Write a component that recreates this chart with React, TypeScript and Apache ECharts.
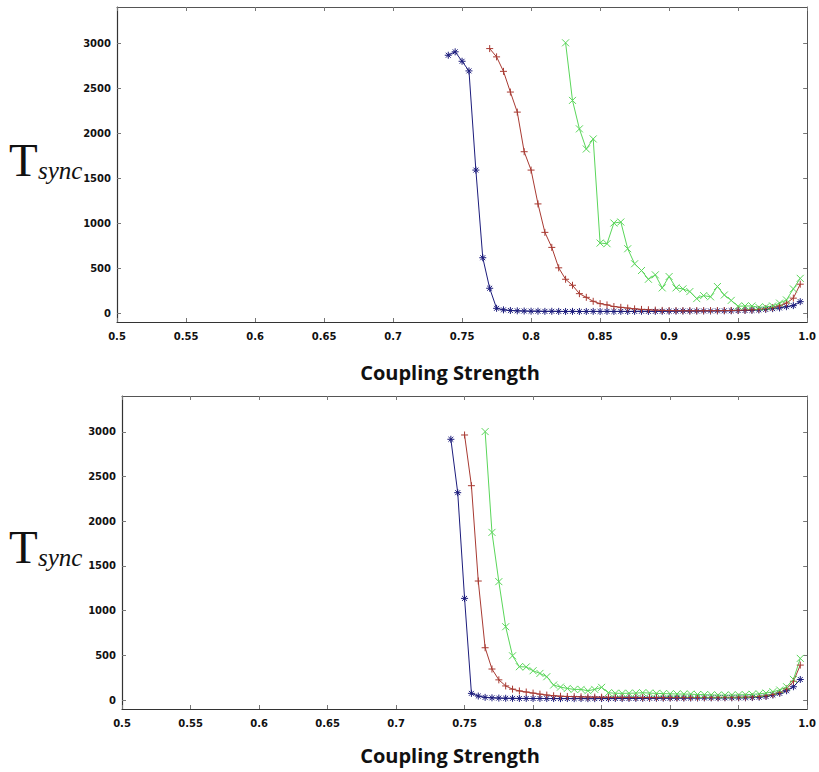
import React, { useEffect, useRef } from "react";
import * as echarts from "echarts";

// Sampling grid of coupling strength (step between successive samples)
const xStep = 0.005;
const yTicks = [0, 500, 1000, 1500, 2000, 2500, 3000];

// ---- Top panel ----
const topBlueStart = 0.74;
const topBlue = [
  2864, 2902, 2797, 2690, 1588, 614, 275, 52, 35, 28, 24, 22, 20, 20, 18, 19, 18, 17,
  18, 17, 17, 18, 17, 18, 17, 18, 17, 18, 19, 18, 18, 19, 20, 21, 22, 22, 22, 23, 23,
  24, 24, 25, 27, 28, 30, 34, 40, 48, 56, 70, 82, 126,
];
const topRedStart = 0.77;
const topRed = [
  2938, 2846, 2685, 2455, 2232, 1792, 1588, 1212, 896, 729, 502, 375, 308, 215, 174,
  130, 104, 90, 72, 63, 55, 46, 40, 36, 32, 29, 27, 26, 25, 25, 25, 25, 26, 26, 27, 28,
  30, 32, 35, 40, 48, 60, 80, 110, 165, 320,
];
const topGreenStart = 0.825;
const topGreen = [
  3002, 2362, 2046, 1822, 1934, 777, 770, 1000, 1011, 714, 547, 472, 375, 424, 279, 405,
  279, 268, 238, 160, 193, 180, 294, 200, 140, 75, 78, 78, 63, 68, 78, 110, 145, 268, 385,
];

// ---- Bottom panel ----
const botBlueStart = 0.74;
const botBlue = [
  2916, 2319, 1137, 75, 45, 30, 25, 22, 20, 19, 18, 18, 17, 18, 17, 17, 16, 17, 16, 17,
  16, 16, 17, 16, 17, 17, 18, 18, 19, 20, 20, 21, 21, 22, 22, 23, 23, 24, 24, 24, 25,
  25, 25, 25, 28, 32, 40, 56, 75, 104, 149, 230,
];
const botRedStart = 0.75;
const botRed = [
  2964, 2397, 1331, 585, 347, 226, 158, 122, 102, 90, 78, 66, 56, 48, 43, 40, 38, 36, 34,
  33, 32, 31, 30, 30, 29, 29, 28, 28, 28, 28, 28, 28, 28, 28, 29, 29, 29, 30, 30, 30, 31,
  32, 35, 40, 48, 62, 85, 125, 210, 391,
];
const botGreenStart = 0.765;
const botGreen = [
  3002, 1875, 1324, 820, 495, 373, 370, 328, 298, 261, 168, 145, 130, 119, 119, 104, 119,
  142, 82, 76, 75, 76, 78, 82, 78, 75, 72, 70, 68, 67, 66, 62, 60, 58, 55, 55, 56, 58, 60,
  64, 70, 78, 93, 112, 149, 231, 466,
];

const BLUE = "#1c1c7c";
const RED = "#a83a32";
const GREEN = "#5ad65a";

const STAR = "path://M5,0L5,10M0,5L10,5M1.5,1.5L8.5,8.5M8.5,1.5L1.5,8.5";
const PLUS = "path://M5,0L5,10M0,5L10,5";
const CROSS = "path://M0,0L10,10M10,0L0,10";

function pairs(start: number, vals: number[]) {
  return vals.map((v, i) => [Number((start + i * xStep).toFixed(3)), v]);
}

const labelFont = {
  fontFamily: "DejaVu Sans",
  fontWeight: "bold" as const,
  fontSize: 10,
  color: "#111",
};

function xAxes(gridIndex: number) {
  const base = {
    type: "value" as const,
    gridIndex,
    min: 0.5,
    max: 1.0,
    interval: 0.05,
    splitLine: { show: false },
    axisLine: { show: true, onZero: false, lineStyle: { color: "#333", width: 1.2 } },
    axisTick: { show: true, inside: true, length: 4, lineStyle: { color: "#777" } },
  };
  return [
    {
      ...base,
      position: "bottom" as const,
      axisLabel: {
        ...labelFont,
        margin: 9,
        showMinLabel: true,
        showMaxLabel: true,
        formatter: (v: number) => (Math.abs(v - 1) < 1e-9 ? "1.0" : String(parseFloat(v.toFixed(2)))),
      },
    },
    {
      ...base,
      position: "top" as const,
      axisLine: { show: true, onZero: false, lineStyle: { color: "#555", width: 1 } },
      axisLabel: { show: false },
    },
  ];
}

function yAxes(gridIndex: number) {
  const base = {
    type: "value" as const,
    gridIndex,
    min: -100,
    max: 3400,
    splitLine: { show: false },
    axisLine: { show: true, onZero: false, lineStyle: { color: "#333", width: 1.2 } },
    axisTick: { show: true, inside: true, length: 4, customValues: yTicks, lineStyle: { color: "#777" } },
  };
  return [
    {
      ...base,
      position: "left" as const,
      axisLabel: {
        ...labelFont,
        margin: 6,
        customValues: yTicks,
        formatter: (v: number) => String(Math.round(v)),
      },
    },
    {
      ...base,
      position: "right" as const,
      axisLine: { show: true, onZero: false, lineStyle: { color: "#555", width: 1 } },
      axisLabel: { show: false },
    },
  ];
}

function series(data: number[][], color: string, symbol: string, xi: number, yi: number) {
  return {
    type: "line" as const,
    xAxisIndex: xi,
    yAxisIndex: yi,
    data,
    symbol,
    symbolSize: 7,
    showSymbol: true,
    lineStyle: { color, width: 1 },
    itemStyle: { color, borderColor: color, borderWidth: 1 },
    emphasis: { disabled: true },
  };
}

export default function App() {
  const ref = useRef<HTMLDivElement>(null);
  useEffect(() => {
    document.body.style.margin = "0";
    if (!ref.current) return;
    const chart = echarts.init(ref.current, undefined, { renderer: "svg" });
    const titleStyle = {
      fill: "#111",
      fontFamily: "Open Sans",
      fontWeight: "bold",
      fontSize: 20,
      textAlign: "center",
      textVerticalAlign: "middle",
    };
    const tsyncStyle = {
      text: "{t|T}{s|sync}",
      fill: "#111",
      textVerticalAlign: "top",
      rich: {
        t: {
          fontFamily: "Liberation Serif",
          fontSize: 47,
          lineHeight: 56,
          width: 29,
          verticalAlign: "bottom",
          fill: "#111",
        },
        s: {
          fontFamily: "Liberation Serif",
          fontStyle: "italic",
          fontSize: 25,
          lineHeight: 35,
          verticalAlign: "bottom",
          fill: "#111",
        },
      },
    };
    chart.setOption({
      animation: false,
      backgroundColor: "#fff",
      grid: [
        { left: 117, top: 7, width: 691, height: 315 },
        { left: 122, top: 396, width: 688, height: 313 },
      ],
      xAxis: [...xAxes(0), ...xAxes(1)],
      yAxis: [...yAxes(0), ...yAxes(1)],
      series: [
        series(pairs(topBlueStart, topBlue), BLUE, STAR, 0, 0),
        series(pairs(topRedStart, topRed), RED, PLUS, 0, 0),
        series(pairs(topGreenStart, topGreen), GREEN, CROSS, 0, 0),
        series(pairs(botBlueStart, botBlue), BLUE, STAR, 2, 2),
        series(pairs(botRedStart, botRed), RED, PLUS, 2, 2),
        series(pairs(botGreenStart, botGreen), GREEN, CROSS, 2, 2),
      ],
      graphic: [
        { type: "text", x: 450, y: 372, style: { ...titleStyle, text: "Coupling Strength" } },
        { type: "text", x: 450, y: 755, style: { ...titleStyle, text: "Coupling Strength" } },
        { type: "text", x: 9, y: 127, style: { ...tsyncStyle } },
        { type: "text", x: 9, y: 514, style: { ...tsyncStyle } },
      ],
    });
    return () => chart.dispose();
  }, []);
  return <div ref={ref} style={{ width: 819, height: 772 }} />;
}
